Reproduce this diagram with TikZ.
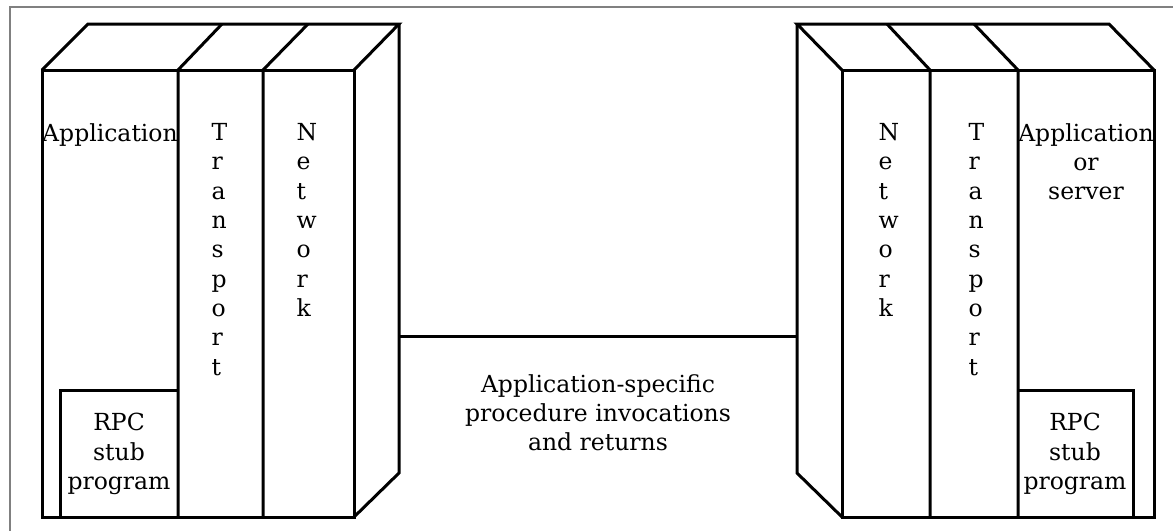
\documentclass[tikz,border=0pt]{standalone}
\usepackage{fontspec}
\setmainfont{DejaVu Serif}
\begin{document}
\begin{tikzpicture}[x=0.5pt,y=-0.5pt,line width=1.5pt,
  lbl/.style={inner sep=0pt,align=center,font=\fontsize{11.75}{14.65}\selectfont},
  col/.style={lbl,align=left,anchor=north west}]
\useasboundingbox (0,0) rectangle (1173,531);
\draw[color=gray,line width=0.9pt] (1173,7) -- (10,7) -- (10,531);
% client stack
\draw (42,70) rectangle (354,517);
\draw (42,70) -- (88,24) -- (399,24) -- (354,70);
\draw (399,24) -- (399,473) -- (354,517);
\foreach \a/\b in {178/222,263/308} \draw (\a,517) -- (\a,70) -- (\b,24);
\draw (60,517) -- (60,390) -- (178,390);
% server stack
\draw (842,70) rectangle (1154,517);
\draw (842,70) -- (797,24) -- (1109,24) -- (1154,70);
\draw (797,24) -- (797,473) -- (842,517);
\foreach \a/\b in {930/887,1018/974} \draw (\a,517) -- (\a,70) -- (\b,24);
\draw (1018,390) -- (1133,390) -- (1133,517);
% labels
\node[lbl,anchor=north] (appl) at (110,122) {Application};
\node[col] (trl) at (210,122) {T\\r\\a\\n\\s\\p\\o\\r\\t};
\node[col] (netl) at (295,122) {N\\e\\t\\w\\o\\r\\k};
\node[lbl,anchor=north] (stubl) at (119,412) {RPC\\stub\\program};
\node[col] (netr) at (877,122) {N\\e\\t\\w\\o\\r\\k};
\node[col] (trr) at (967,122) {T\\r\\a\\n\\s\\p\\o\\r\\t};
\node[lbl,anchor=north] (appr) at (1086,122) {Application\\or\\server};
\node[lbl,anchor=north] (stubr) at (1075,412) {RPC\\stub\\program};
% link
\coordinate (lside) at (399,336);
\coordinate (rside) at (797,336);
\draw (lside) -- (rside);
\node[lbl,anchor=north] (msg) at (598,373) {Application-specific\\procedure invocations\\and returns};
\end{tikzpicture}
\end{document}
